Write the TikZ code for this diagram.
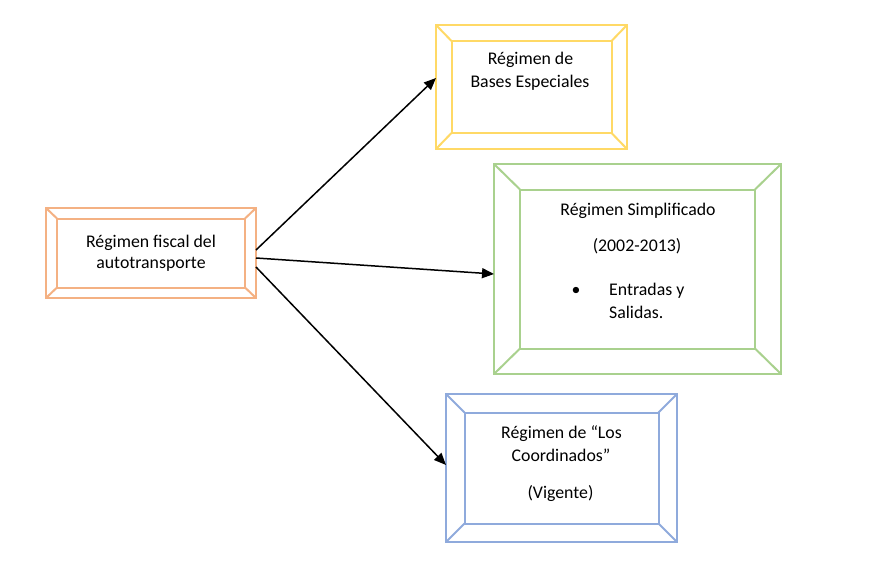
\documentclass[tikz,border=0pt]{standalone}
\usepackage{fontspec}
\setmainfont{Carlito}
\usetikzlibrary{arrows.meta}

\definecolor{arancio}{HTML}{F4B183}
\definecolor{giallo}{HTML}{FFD966}
\definecolor{verde}{HTML}{A9D18E}
\definecolor{blu}{HTML}{8FAADC}

\tikzset{
    cornice/.style={draw=#1, line width=2pt, inner sep=0pt, outer sep=0pt},
    freccia/.style={-{Triangle[length=12pt, width=10pt]}, line width=1.5pt},
    testo/.style={font=\fontsize{17.8}{21}\selectfont, anchor=base, inner sep=0pt}
}

% riquadro smussato: nome, colore, centro, larghezza, altezza, smusso x, smusso y
\newcommand{\smussato}[7]{
    \node[cornice=#2, minimum width=#4, minimum height=#5] (#1) at #3 {};
    \node[cornice=#2, minimum width=#4-2*#6, minimum height=#5-2*#7] (#1-int) at #3 {};
    \foreach \ang in {north west, north east, south west, south east}
        \draw[#2, line width=2pt] (#1.\ang) -- (#1-int.\ang);
}

\begin{document}
\begin{tikzpicture}[x=1pt, y=-1pt]

        \useasboundingbox (0,0) rectangle (880,578);

        % 1. I quattro riquadri
        \smussato{regime}{arancio}{(151,253)}{210pt}{90pt}{11pt}{10.5pt}
        \smussato{basi}{giallo}{(531.5,87)}{191pt}{124pt}{15.5pt}{16pt}
        \smussato{semplificato}{verde}{(637.5,269)}{287pt}{210pt}{26pt}{25.5pt}
        \smussato{coordinati}{blu}{(561.5,468)}{231pt}{148pt}{18.5pt}{18.5pt}

        % 2. Testi del riquadro a sinistra
        \node[testo] (regime-a) at (151,247) {Régimen fiscal del};
        \node[testo] (regime-b) at (151,268) {autotransporte};

        % 3. Testi del riquadro giallo
        \node[testo] (basi-a) at (530.5,64) {Régimen de};
        \node[testo] (basi-b) at (530,88) {Bases Especiales};

        % 4. Testi del riquadro verde
        \node[testo] (sempl-a) at (638,215) {Régimen Simplificado};
        \node[testo] (sempl-b) at (637,251) {(2002-2013)};
        \node[testo] (punto) at (576,295) {•};
        \node[testo, anchor=base west] (sempl-c) at (609,295) {Entradas y};
        \node[testo, anchor=base west] (sempl-d) at (609,318) {Salidas.};

        % 5. Testi del riquadro blu
        \node[testo] (coord-a) at (561.5,438) {Régimen de “Los};
        \node[testo] (coord-b) at (561,461) {Coordinados”};
        \node[testo] (coord-c) at (560.5,498) {(Vigente)};

        % 6. Frecce verso i tre regimi
        \draw[freccia] ([yshift=3pt]regime.east) -- ([yshift=9pt]basi.west);
        \draw[freccia] ([yshift=-5pt]regime.east) -- ([yshift=-5pt]semplificato.west);
        \draw[freccia] ([yshift=-14pt]regime.east) -- ([yshift=3pt]coordinati.west);

    \end{tikzpicture}
\end{document}
